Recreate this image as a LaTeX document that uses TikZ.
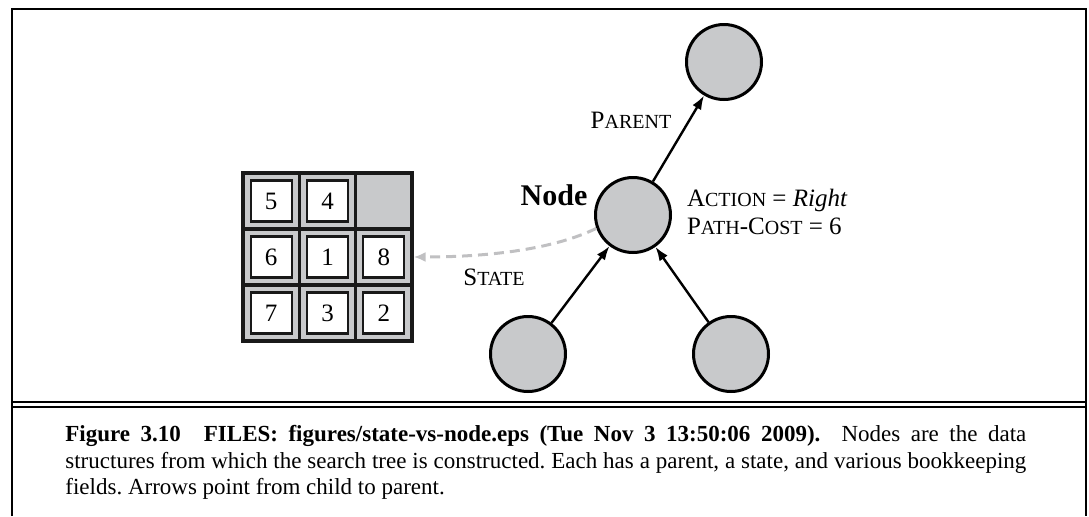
\documentclass[tikz,border=0pt]{standalone}
\usepackage{fontspec}
\setmainfont{Liberation Serif}
\usetikzlibrary{arrows.meta}

\definecolor{nodegray}{RGB}{200,201,203}
\definecolor{dashgray}{RGB}{192,192,194}
\newcommand{\smc}[2]{#1{\fontsize{10}{10}\selectfont #2}}
\newcommand{\capstyle}{\frenchspacing\hyphenpenalty=10000\relax\fontsize{11.5}{13.2}\selectfont}

\begin{document}
\begin{tikzpicture}[x=0.5pt,y=-0.5pt,
  treenode/.style={circle,draw,line width=1.5pt,fill=nodegray,minimum size=37.5pt,inner sep=0pt},
  link/.style={line width=1.2pt,-{Latex[length=7pt,width=5pt]}},
  tile/.style={draw=black!90,line width=1.1pt,fill=white,minimum size=20.5pt,inner sep=0pt,font=\fontsize{12.5}{12.5}\selectfont},
  lbl/.style={font=\fontsize{12.5}{14}\selectfont}]
\useasboundingbox (0,0) rectangle (1089,516);
%frame
\draw[line width=1.1pt] (12,516) -- (12,9) -- (1086,9) -- (1086,516);
\draw[line width=1pt] (12,402) -- (1086,402);
\draw[line width=1pt] (12,407) -- (1086,407);
%tree
\node[treenode] (parent) at (724,62) {};
\node[treenode] (node) at (633,215) {};
\node[treenode] (left) at (528,354) {};
\node[treenode] (right) at (731,354) {};
\draw[link] (node) -- (parent);
\draw[link] (left) -- (node);
\draw[link] (right) -- (node);
%labels
\node[lbl] (lparent) at (631,120) {\smc{P}{ARENT}};
\node[font=\bfseries\fontsize{15}{15}\selectfont] (lnode) at (554,195) {Node};
\node[lbl,anchor=west,align=left] (info) at (680,212) {\smc{A}{CTION} = \textit{Right}\\\smc{P}{ATH}-\smc{C}{OST} = 6};
\node[lbl] (lstate) at (494,277) {\smc{S}{TATE}};
%board
\node[draw=black!90,line width=1.6pt,fill=nodegray,minimum width=84.5pt,minimum height=84pt,inner sep=0pt] (board) at (327.5,257) {};
\foreach \x in {299.3,355.7} \draw[line width=1.6pt,black!90] (\x,173) -- (\x,341);
\foreach \y in {229,285} \draw[line width=1.6pt,black!90] (243,\y) -- (412,\y);
\foreach \n/\c/\r in {5/0/0,4/1/0,6/0/1,1/1/1,8/2/1,7/0/2,3/1/2,2/2/2}
  \node[tile] (t\n) at ({271.2+56.3*\c},{201+56*\r}) {\n};
\draw[dashgray,line width=1.5pt,dash pattern=on 5pt off 3pt,-{Latex[length=6pt,width=5pt]}] (node.200) .. controls +(-45,22) and +(70,0) .. (board.east);
%caption
\node[anchor=north west,text width=480.5pt,align=justify,inner sep=0pt,font=\capstyle] (caption) at (65,425)
 {\textbf{Figure 3.10}\quad\textbf{FILES: figures/state-vs-node.eps (Tue Nov 3 13:50:06 2009).}\ \ Nodes are the data\linebreak
  structures from which the search tree is constructed. Each has a parent, a state, and various bookkeeping\linebreak
  fields. Arrows point from child to parent.};
\end{tikzpicture}
\end{document}
